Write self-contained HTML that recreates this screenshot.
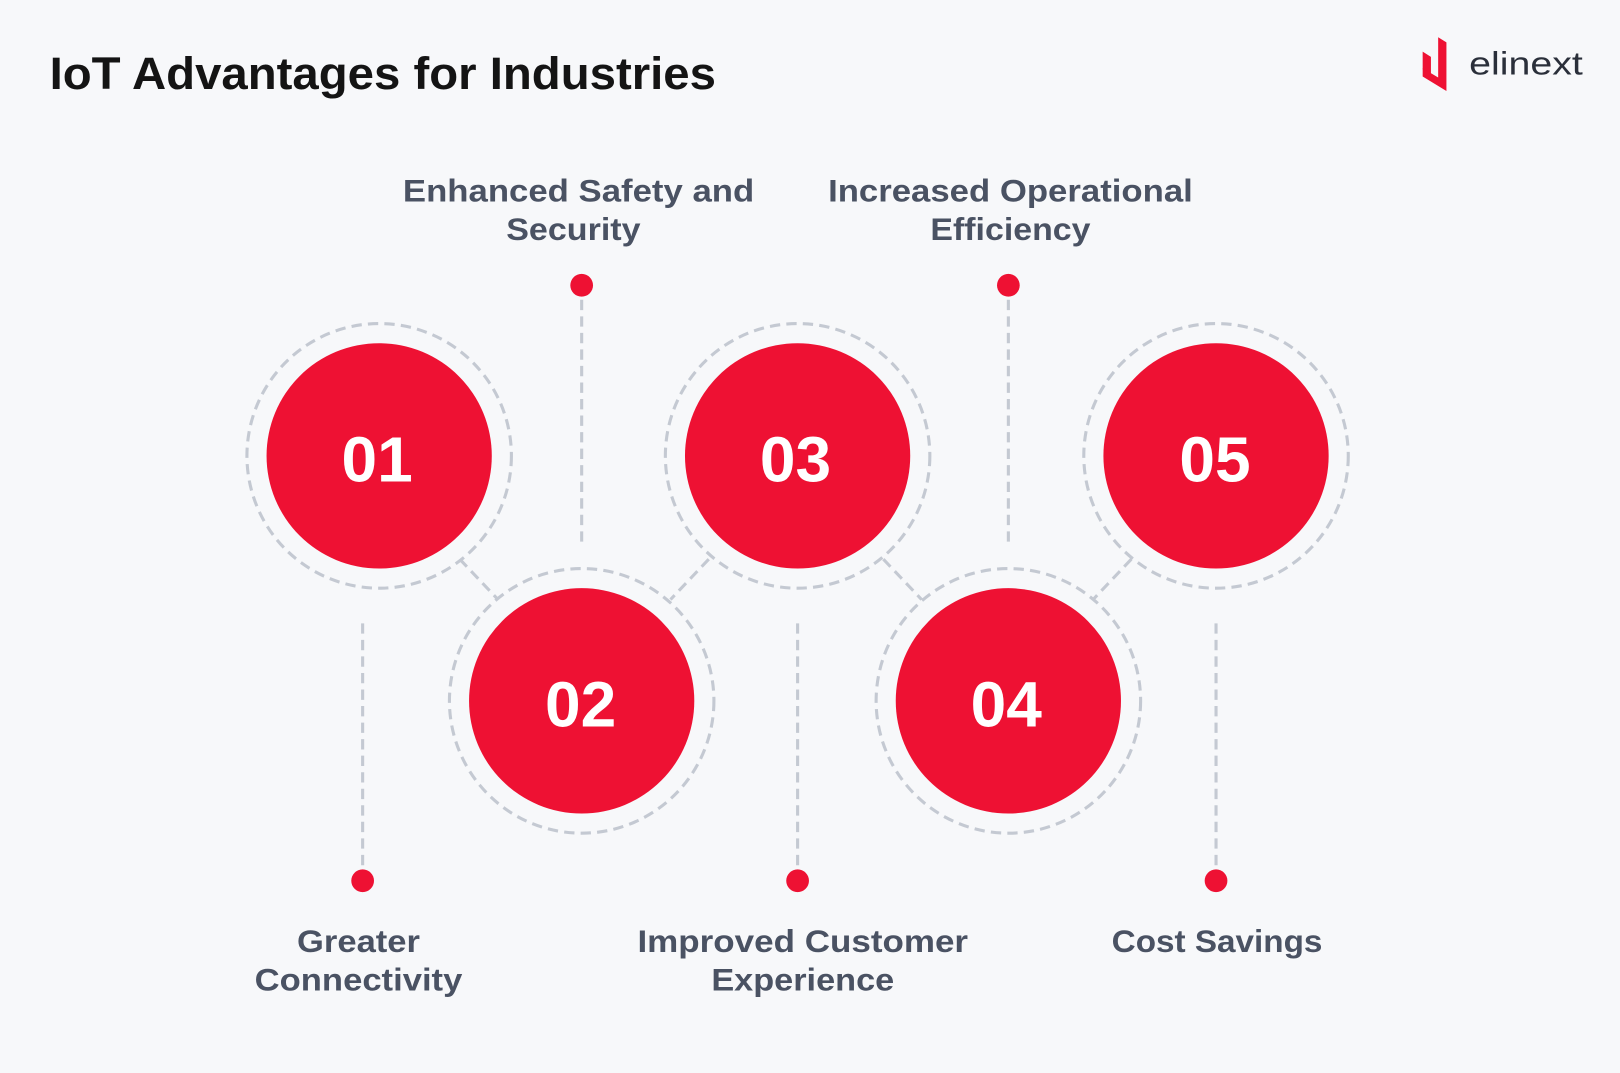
<!DOCTYPE html>
<html><head><meta charset="utf-8"><style>
html,body{margin:0;padding:0;background:#f7f8fa;}
svg{display:block;}
text{font-family:"Liberation Sans",sans-serif;}
</style></head><body>
<svg width="1620" height="1073" viewBox="0 0 1568 1038" preserveAspectRatio="none" xmlns="http://www.w3.org/2000/svg">
<rect width="1568" height="1038" fill="#f7f8fa"/>
<text x="48" y="86" font-size="44" font-weight="bold" fill="#141414" textLength="645" lengthAdjust="spacingAndGlyphs">IoT Advantages for Industries</text>
<polygon points="1377,50 1385,55 1385,72 1377,67" fill="#ee1133"/>
<polygon points="1392,36 1400,41 1400,88 1377,74 1377,66 1392,75" fill="#ee1133"/>
<text x="1422" y="72" font-size="31" fill="#2a2f3a" textLength="110" lengthAdjust="spacingAndGlyphs">elinext</text>
<g fill="none" stroke="#c4c9d2" stroke-width="3" stroke-dasharray="10 6">
<circle cx="367" cy="441" r="128"/><circle cx="563" cy="678" r="128"/>
<circle cx="772" cy="441" r="128"/><circle cx="976" cy="678" r="128"/>
<circle cx="1177" cy="441" r="128"/>
<line x1="445" y1="541" x2="482" y2="580"/><line x1="686" y1="541" x2="649" y2="580"/>
<line x1="855" y1="541" x2="892" y2="580"/><line x1="1095" y1="541" x2="1058" y2="580"/>
<line x1="563" y1="290" x2="563" y2="528"/><line x1="976" y1="290" x2="976" y2="528"/>
<line x1="351" y1="603" x2="351" y2="840"/><line x1="772" y1="603" x2="772" y2="840"/>
<line x1="1177" y1="603" x2="1177" y2="840"/>
</g>
<g fill="#ee1133">
<circle cx="367" cy="441" r="109"/><circle cx="563" cy="678" r="109"/>
<circle cx="772" cy="441" r="109"/><circle cx="976" cy="678" r="109"/>
<circle cx="1177" cy="441" r="109"/>
<circle cx="563" cy="276" r="11"/><circle cx="976" cy="276" r="11"/>
<circle cx="351" cy="852" r="11"/><circle cx="772" cy="852" r="11"/><circle cx="1177" cy="852" r="11"/>
</g>
<g fill="#fff" font-size="62" font-weight="bold" text-anchor="middle">
<text x="365" y="466">01</text><text x="562" y="703">02</text>
<text x="770" y="466">03</text><text x="974" y="703">04</text><text x="1176" y="466">05</text>
</g>
<g fill="#4a5263" font-size="30" font-weight="bold" text-anchor="middle" lengthAdjust="spacingAndGlyphs">
<text x="560" y="195" textLength="340" lengthAdjust="spacingAndGlyphs">Enhanced Safety and</text>
<text x="555" y="232" textLength="130" lengthAdjust="spacingAndGlyphs">Security</text>
<text x="978" y="195" textLength="353" lengthAdjust="spacingAndGlyphs">Increased Operational</text>
<text x="978" y="232" textLength="155" lengthAdjust="spacingAndGlyphs">Efficiency</text>
<text x="347" y="921" textLength="119" lengthAdjust="spacingAndGlyphs">Greater</text>
<text x="347" y="958" textLength="201" lengthAdjust="spacingAndGlyphs">Connectivity</text>
<text x="777" y="921" textLength="320" lengthAdjust="spacingAndGlyphs">Improved Customer</text>
<text x="777" y="958" textLength="177" lengthAdjust="spacingAndGlyphs">Experience</text>
<text x="1178" y="921" textLength="204" lengthAdjust="spacingAndGlyphs">Cost Savings</text>
</g>
</svg>
</body></html>
